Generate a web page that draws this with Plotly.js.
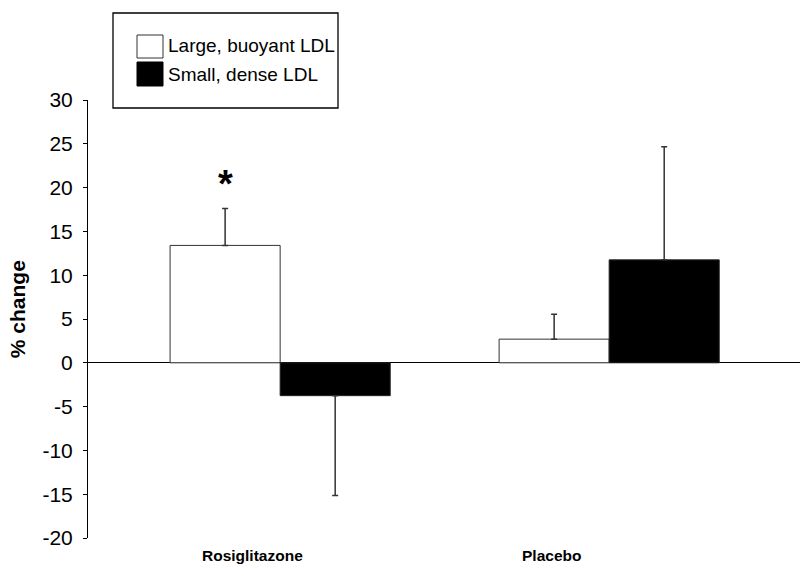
<!DOCTYPE html>
<html>
<head>
<meta charset="utf-8">
<script src="https://cdn.plot.ly/plotly-3.0.1.min.js"></script>
<style>html,body{margin:0;padding:0;background:#fff;}#chart{width:800px;height:570px;}</style>
</head>
<body>
<div id="chart"></div>
<script>
var categories = ['Rosiglitazone', 'Placebo'];
var seriesNames = ['Large, buoyant LDL', 'Small, dense LDL'];
var largeValues = [13.4, 2.7];
var largeErrUp = [4.2, 2.85];
var largeErrDown = [0, 0];
var smallValues = [-3.75, 11.75];
var smallErrUp = [0, 12.9];
var smallErrDown = [11.4, 0];
var yTicks = [-20, -15, -10, -5, 0, 5, 10, 15, 20, 25, 30];
var significance = ['*', ''];

var FONT = 'Liberation Sans, Arial, sans-serif';

var traces = [
  {
    type: 'bar', name: seriesNames[0], x: categories, y: largeValues,
    marker: {color: '#ffffff', line: {color: '#333333', width: 1}},
    error_y: {type: 'data', symmetric: false, array: largeErrUp, arrayminus: largeErrDown,
              color: '#333333', thickness: 1.5, width: 3},
    showlegend: false
  },
  {
    type: 'bar', name: seriesNames[1], x: categories, y: smallValues,
    marker: {color: '#000000', line: {color: '#222222', width: 1}},
    error_y: {type: 'data', symmetric: false, array: smallErrUp, arrayminus: smallErrDown,
              color: '#333333', thickness: 1.5, width: 3},
    showlegend: false
  }
];

var annotations = [];
// category labels
var labelX = [-0.085, 0.824];
categories.forEach(function (c, i) {
  annotations.push({
    text: '<b>' + c + '</b>', xref: 'x', yref: 'paper', x: labelX[i], y: -0.041,
    xanchor: 'center', yanchor: 'middle', showarrow: false,
    font: {family: FONT, size: 15.5, color: '#000'}
  });
});
// significance markers above the large-LDL bars
significance.forEach(function (s, i) {
  if (!s) return;
  annotations.push({
    text: '<b>' + s + '</b>', xref: 'x', yref: 'y', x: i - 0.165,
    y: largeValues[i] + largeErrUp[i], yanchor: 'bottom', xanchor: 'center', yshift: 2,
    showarrow: false, font: {family: FONT, size: 38, color: '#000'}
  });
});
// y title
annotations.push({
  text: '<b>% change</b>', xref: 'paper', yref: 'paper', x: -0.098, y: 0.523,
  xanchor: 'center', yanchor: 'middle', textangle: -90, showarrow: false,
  font: {family: FONT, size: 21, color: '#000'}
});
// legend texts
var legendY = [46, 74];
seriesNames.forEach(function (n, i) {
  annotations.push({
    text: n, xref: 'paper', yref: 'paper',
    x: (166 - 88) / 712, y: (538 - legendY[i]) / 438,
    xanchor: 'left', yanchor: 'middle', showarrow: false,
    font: {family: FONT, size: 19, color: '#000'}
  });
});

function px(xp) { return (xp - 88) / 712; }
function py(yp) { return (538 - yp) / 438; }

var shapes = [
  {type: 'rect', xref: 'paper', yref: 'paper', x0: px(113), x1: px(338), y0: py(108), y1: py(13),
   line: {color: '#000', width: 1.3}, fillcolor: '#fff', layer: 'above'},
  {type: 'rect', xref: 'paper', yref: 'paper', x0: px(137), x1: px(163), y0: py(58), y1: py(35),
   line: {color: '#333', width: 1}, fillcolor: '#fff', layer: 'above'},
  {type: 'rect', xref: 'paper', yref: 'paper', x0: px(137), x1: px(163), y0: py(86), y1: py(62),
   line: {color: '#000', width: 1}, fillcolor: '#000', layer: 'above'}
];

var layout = {
  width: 800, height: 570,
  margin: {l: 88, r: 0, t: 100, b: 32, pad: 0},
  paper_bgcolor: '#fff', plot_bgcolor: '#fff',
  barmode: 'group', bargap: 0.331, bargroupgap: 0,
  showlegend: false,
  xaxis: {type: 'category', range: [-0.584, 1.58], showticklabels: false, showgrid: false,
          zeroline: false, showline: false, ticks: ''},
  yaxis: {range: [-20, 30], tickvals: yTicks, ticktext: yTicks.map(String),
          showgrid: false, showline: true, linecolor: '#000', linewidth: 1,
          ticks: 'outside', ticklen: 4, tickcolor: '#000', tickwidth: 1,
          zeroline: true, zerolinecolor: '#000', zerolinewidth: 1,
          ticklabelstandoff: 6,
          tickfont: {family: FONT, size: 21, color: '#000'}},
  annotations: annotations,
  shapes: shapes
};

Plotly.newPlot('chart', traces, layout, {displayModeBar: false, staticPlot: true});
</script>
</body>
</html>
